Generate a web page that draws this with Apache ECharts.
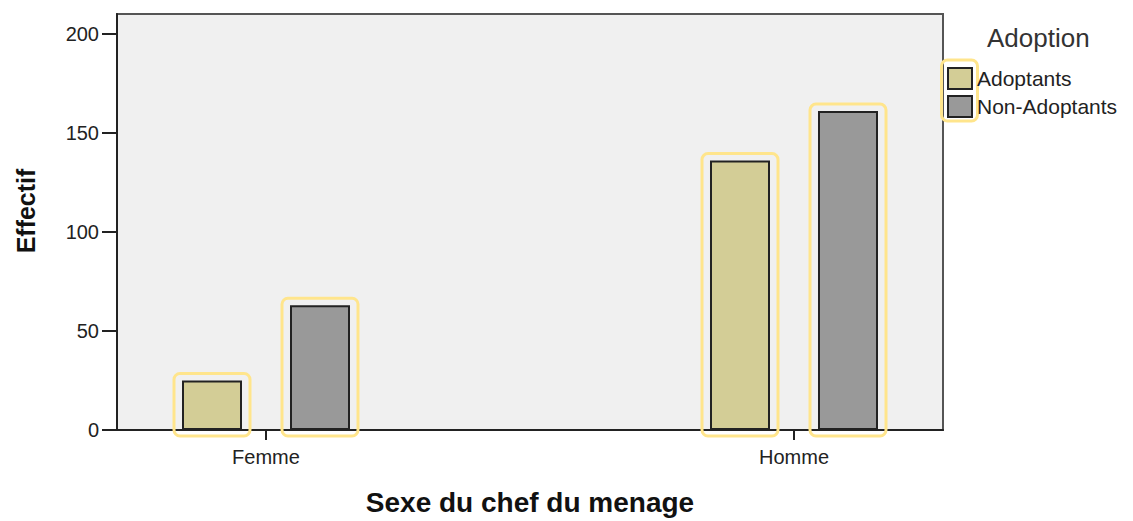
<!DOCTYPE html>
<html>
<head>
<meta charset="utf-8">
<script src="https://cdn.jsdelivr.net/npm/echarts@6/dist/echarts.min.js"></script>
<style>
html,body{margin:0;padding:0;background:#fff;}
#c{width:1133px;height:521px;}
</style>
</head>
<body>
<div id="c"></div>
<script>
// ---- data ----
const categories = ['Femme', 'Homme'];
const seriesNames = ['Adoptants', 'Non-Adoptants'];
const adoptants = [25, 136];
const nonAdoptants = [63, 161];
const yTickValues = [0, 50, 100, 150, 200];
const legendTitle = 'Adoption';
const xAxisTitle = 'Sexe du chef du menage';
const yAxisTitle = 'Effectif';

// ---- styles ----
const FONT = 'Liberation Sans, Arial, sans-serif';
const colors = ['#D3CD96', '#999999'];
const BAR_W = 60;
const BAR_OFF = 54;
const HL = '#FFE58C';

const chart = echarts.init(document.getElementById('c'), null, {renderer: 'svg'});

function pairs(arr) { return arr.map((v, i) => [i, v]); }

function outlineSeries(values, offset) {
  return {
    type: 'custom',
    clip: false,
    silent: true,
    z: 1,
    data: pairs(values),
    renderItem: function (params, api) {
      const x = api.value(0), y = api.value(1);
      const top = api.coord([x, y]);
      const base = api.coord([x, 0]);
      const cx = top[0] + offset;
      return {
        type: 'rect',
        shape: {x: cx - BAR_W / 2 - 8, y: top[1] - 7, width: BAR_W + 16, height: base[1] - top[1] + 13, r: 6},
        style: {fill: 'none', stroke: HL, lineWidth: 3}
      };
    }
  };
}

const option = {
  animation: false,
  backgroundColor: '#ffffff',
  grid: {
    left: 117, top: 14, width: 826, height: 416,
    outerBoundsMode: 'none',
    containLabel: false,
    show: true, backgroundColor: '#F0F0F0', borderColor: '#555', borderWidth: 2
  },
  legend: {
    orient: 'vertical',
    left: 947, top: 67,
    itemWidth: 24, itemHeight: 21, itemGap: 5,
    padding: 0,
    icon: 'rect',
    data: seriesNames,
    textStyle: {fontFamily: FONT, fontSize: 21, color: '#222'}
  },
  graphic: [
    {type: 'text', left: 987, top: 25, style: {text: legendTitle, font: '26px ' + FONT, fill: '#333'}},
    {type: 'rect', shape: {x: 941.5, y: 60, width: 36, height: 61, r: 6}, style: {fill: 'none', stroke: HL, lineWidth: 3}, z: 0}
  ],
  xAxis: {
    type: 'value',
    min: -0.2822, max: 1.2822,
    name: xAxisTitle,
    nameLocation: 'middle',
    nameGap: 58,
    nameMoveOverlap: false,
    nameTextStyle: {fontFamily: FONT, fontSize: 28, fontWeight: 'bold', color: '#111'},
    axisLine: {show: true, onZero: false, lineStyle: {color: '#222', width: 2}},
    axisTick: {show: true, customValues: [0, 1], length: 10, lineStyle: {color: '#222', width: 2}},
    axisLabel: {
      show: true, customValues: [0, 1], margin: 17,
      formatter: v => categories[Math.round(v)],
      fontFamily: FONT, fontSize: 20, color: '#222'
    },
    splitLine: {show: false}
  },
  yAxis: {
    type: 'value',
    min: 0, max: 210, interval: 50,
    name: yAxisTitle,
    nameLocation: 'middle',
    nameGap: 79,
    nameMoveOverlap: false,
    nameTextStyle: {fontFamily: FONT, fontSize: 25, fontWeight: 'bold', color: '#111', padding: [0, 0, 0, 22]},
    axisLine: {show: true, onZero: false, lineStyle: {color: '#222', width: 2}},
    axisTick: {show: true, length: 15, lineStyle: {color: '#222', width: 2}, customValues: yTickValues},
    axisLabel: {show: true, margin: 18, fontFamily: FONT, fontSize: 20, color: '#222', customValues: yTickValues},
    splitLine: {show: false}
  },
  series: [
    {
      name: seriesNames[0], type: 'bar', data: pairs(adoptants),
      barWidth: BAR_W, barGap: '80%', z: 2,
      itemStyle: {color: colors[0], borderColor: '#222', borderWidth: 2}
    },
    {
      name: seriesNames[1], type: 'bar', data: pairs(nonAdoptants),
      barWidth: BAR_W, barGap: '80%', z: 2,
      itemStyle: {color: colors[1], borderColor: '#222', borderWidth: 2}
    },
    outlineSeries(adoptants, -BAR_OFF),
    outlineSeries(nonAdoptants, BAR_OFF)
  ]
};
chart.setOption(option);
</script>
</body>
</html>
